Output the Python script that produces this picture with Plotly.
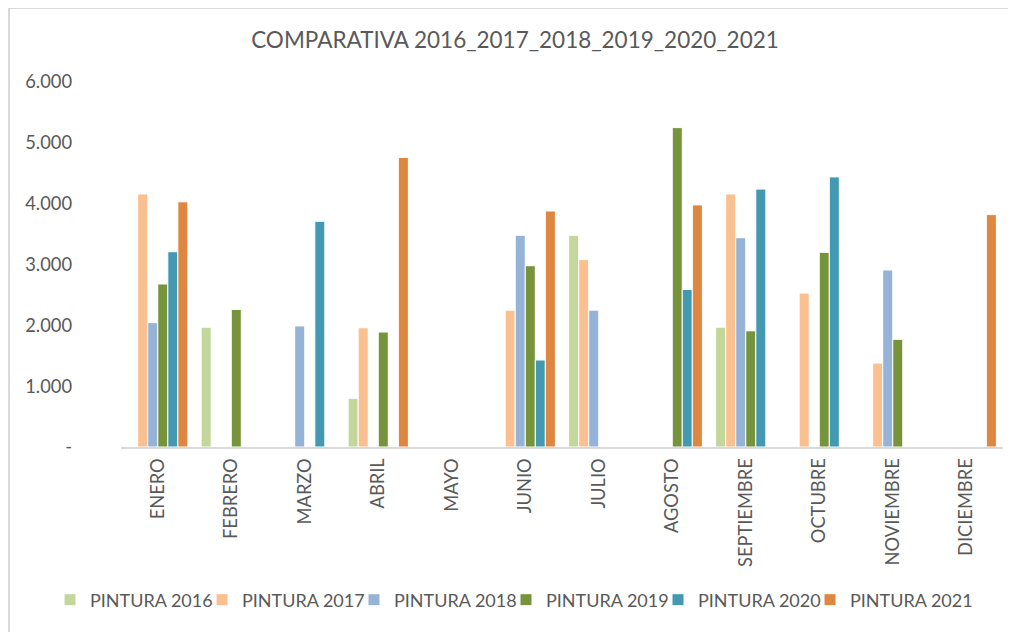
import plotly.graph_objects as go

months = ["ENERO", "FEBRERO", "MARZO", "ABRIL", "MAYO", "JUNIO", "JULIO",
          "AGOSTO", "SEPTIEMBRE", "OCTUBRE", "NOVIEMBRE", "DICIEMBRE"]

series_names = ["PINTURA 2016", "PINTURA 2017", "PINTURA 2018",
                "PINTURA 2019", "PINTURA 2020", "PINTURA 2021"]

p2016 = [None, 1970, None, 800, None, None, 3480, None, 1970, None, None, None]
p2017 = [4160, None, None, 1960, None, 2250, 3080, None, 4160, 2530, 1380, None]
p2018 = [2045, None, 1990, None, None, 3480, 2250, None, 3440, None, 2910, None]
p2019 = [2680, 2260, None, 1890, None, 2980, None, 5250, 1910, 3200, 1770, None]
p2020 = [3210, None, 3710, None, None, 1430, None, 2590, 4240, 4440, None, None]
p2021 = [4030, None, None, 4760, None, 3880, None, 3980, None, None, None, 3820]

series_values = [p2016, p2017, p2018, p2019, p2020, p2021]
colors = ["#c3d69b", "#fac090", "#95b3d7", "#77933c", "#4399b1", "#df8641"]

tick_vals = [0, 1000, 2000, 3000, 4000, 5000, 6000]
tick_text = ["-", "1.000", "2.000", "3.000", "4.000", "5.000", "6.000"]

FONT = "Lato, Carlito, 'Open Sans', sans-serif"
GREY = "#595959"

fig = go.Figure()
n = len(series_names)
for i, (name, vals, col) in enumerate(zip(series_names, series_values, colors)):
    fig.add_trace(go.Bar(
        x=months, y=vals, name=name,
        marker=dict(color=col, line=dict(color="white", width=1)),
        legendwidth=107 if i < n - 1 else 130,
    ))

W, H = 1016, 632
L, R, T, B = 113, 21, 74, 193
pw, ph = W - L - R, H - T - B
bottom = H - B


def px_x(xf):
    return (xf - L) / pw


def px_y(yf):
    return (bottom - yf) / ph


fig.update_layout(
    width=W, height=H,
    margin=dict(l=L, r=R, t=T, b=B, autoexpand=False),
    paper_bgcolor="white", plot_bgcolor="white",
    barmode="group", bargap=0.18, bargroupgap=0.0,
    title=dict(text="COMPARATIVA 2016_2017_2018_2019_2020_2021",
               xref="container", yref="container",
               x=507 / W, xanchor="center", y=1 - 32 / H, yanchor="middle",
               font=dict(family=FONT, size=22.5, color=GREY)),
    font=dict(family=FONT, color=GREY),
    legend=dict(orientation="h", xref="paper", yref="paper",
                x=px_x(42), xanchor="left",
                y=px_y(592), yanchor="middle",
                font=dict(family=FONT, size=18, color=GREY),
                itemwidth=30, traceorder="normal"),
    xaxis=dict(showgrid=False, tickangle=-90, ticks="",
               showline=True, linecolor="#d9d9d9", linewidth=2,
               ticklabelstandoff=2,
               tickfont=dict(family=FONT, size=18.3, color=GREY)),
    yaxis=dict(range=[0, 6000], tickvals=tick_vals, ticktext=tick_text,
               showgrid=False, zeroline=False, showline=False, ticks="",
               ticklabelstandoff=48,
               tickfont=dict(family=FONT, size=18.3, color=GREY)),
    shapes=[
        dict(type="line", xref="paper", yref="paper",
             x0=px_x(1), x1=px_x(1), y0=px_y(0), y1=px_y(H),
             line=dict(color="#d9d9d9", width=2)),
        dict(type="line", xref="paper", yref="paper",
             x0=px_x(0), x1=px_x(W), y0=px_y(0), y1=px_y(0),
             line=dict(color="#d9d9d9", width=2)),
    ],
)

fig.write_html("out.html")
